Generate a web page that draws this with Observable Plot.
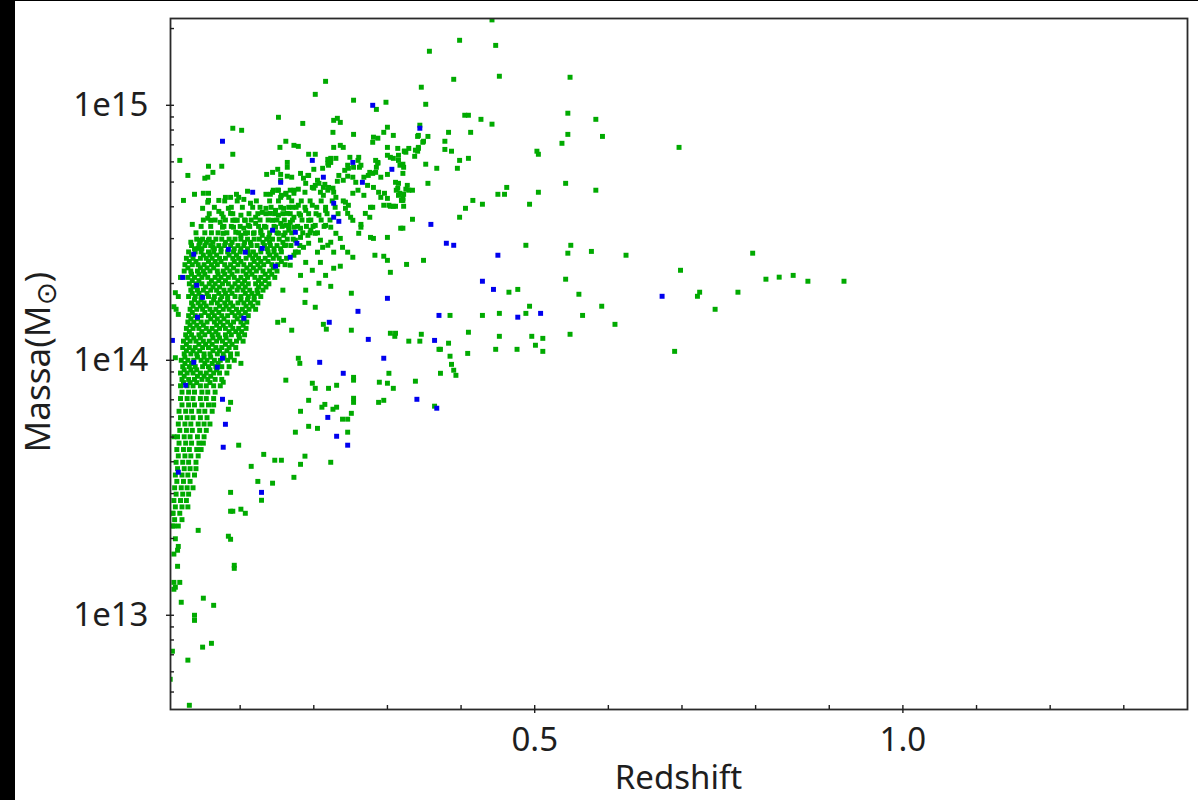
<!DOCTYPE html>
<html><head><meta charset="utf-8">
<script src="https://cdn.jsdelivr.net/npm/d3@7"></script>
<script src="https://cdn.jsdelivr.net/npm/@observablehq/plot@0.6"></script>
<style>
body{margin:0;background:#fff;}
#wrap{position:relative;width:1198px;height:800px;overflow:hidden;background:#fff;}
#blackL{position:absolute;left:0;top:0;width:15px;height:800px;background:#000;}
#blackT{position:absolute;left:0;top:0;width:1198px;height:1px;background:#000;}
</style></head><body>
<div id="wrap"><div id="blackL"></div><div id="blackT"></div></div>
<script>
// ---- DATA: redshift z and log10(mass / Msun) ----
// dense core, written as rows: [log10 M, z, z, ...]
const greenCoreRows = [
 [14.625,0.079,0.096,0.122,0.140,0.152,0.170,0.183,0.195,0.210,0.225,0.240],
 [14.60,0.065,0.088,0.103,0.127,0.142,0.155,0.166,0.176,0.188,0.204,0.216,0.229],
 [14.575,0.058,0.075,0.090,0.112,0.124,0.135,0.147,0.158,0.168,0.180,0.193,0.203,0.218,0.233],
 [14.55,0.050,0.066,0.080,0.093,0.106,0.115,0.127,0.138,0.150,0.160,0.171,0.184,0.196,0.210,0.222],
 [14.525,0.047,0.060,0.078,0.088,0.100,0.113,0.125,0.133,0.146,0.157,0.166,0.178,0.190,0.199,0.214],
 [14.50,0.040,0.052,0.061,0.070,0.082,0.098,0.110,0.119,0.128,0.140,0.150,0.161,0.170,0.185,0.195,0.205],
 [14.475,0.041,0.049,0.058,0.067,0.075,0.085,0.093,0.101,0.110,0.119,0.126,0.136,0.144,0.153,0.164,0.172],
 [14.4625,0.045,0.054,0.063,0.080,0.089,0.106,0.114,0.131,0.140,0.158],
 [14.45,0.034,0.044,0.052,0.060,0.071,0.079,0.087,0.097,0.105,0.115,0.123,0.133,0.141,0.150,0.160,0.169,0.181],
 [14.4375,0.038,0.048,0.065,0.074,0.092,0.101,0.110,0.128,0.137,0.146,0.155],
 [14.425,0.030,0.039,0.047,0.057,0.064,0.074,0.083,0.091,0.100,0.111,0.118,0.128,0.138,0.146,0.156,0.175],
 [14.4125,0.034,0.050,0.059,0.068,0.085,0.095,0.113,0.121,0.140,0.149],
 [14.40,0.027,0.036,0.046,0.054,0.062,0.072,0.080,0.090,0.098,0.108,0.117,0.125,0.134,0.145,0.153,0.163],
 [14.3875,0.031,0.040,0.057,0.066,0.074,0.092,0.101,0.119,0.128,0.138,0.156],
 [14.375,0.025,0.035,0.043,0.051,0.061,0.069,0.079,0.087,0.097,0.105,0.114,0.124,0.132,0.143,0.151,0.161],
 [14.3625,0.029,0.046,0.055,0.064,0.082,0.091,0.109,0.118,0.127,0.145],
 [14.35,0.024,0.033,0.042,0.050,0.059,0.069,0.077,0.086,0.096,0.104,0.113,0.122,0.131,0.140,0.150],
 [14.3375,0.034,0.044,0.052,0.070,0.079,0.089,0.108,0.116,0.134,0.143],
 [14.325,0.019,0.029,0.038,0.048,0.056,0.066,0.074,0.084,0.092,0.101,0.110,0.120,0.128,0.138,0.147],
 [14.3125,0.035,0.044,0.061,0.071,0.080,0.097,0.106,0.125,0.134],
 [14.30,0.031,0.040,0.048,0.058,0.066,0.076,0.084,0.093,0.103,0.111,0.121,0.129,0.139],
 [14.2875,0.036,0.053,0.063,0.072,0.089,0.098,0.107,0.125,0.135],
 [14.275,0.033,0.042,0.050,0.060,0.068,0.078,0.086,0.096,0.104,0.113,0.123,0.131,0.158],
 [14.2625,0.035,0.044,0.055,0.071,0.080,0.089,0.107,0.116,0.124],
 [14.25,0.016,0.030,0.039,0.047,0.057,0.065,0.075,0.083,0.093,0.101,0.111,0.119,0.128],
 [14.2375,0.038,0.047,0.064,0.073,0.083,0.101,0.110,0.119],
 [14.225,0.034,0.043,0.051,0.061,0.069,0.079,0.087,0.097,0.105,0.114,0.124],
 [14.2125,0.036,0.046,0.054,0.072,0.081,0.090,0.108,0.117],
 [14.20,0.013,0.032,0.041,0.049,0.059,0.067,0.077,0.085,0.095,0.103,0.112,0.121],
 [14.1875,0.035,0.052,0.062,0.071,0.089,0.098,0.107],
 [14.175,0.030,0.039,0.047,0.057,0.065,0.075,0.083,0.093,0.101,0.111],
 [14.1625,0.033,0.042,0.060,0.069,0.078,0.096,0.105],
 [14.15,0.029,0.037,0.047,0.055,0.065,0.073,0.083,0.091,0.101,0.109],
 [14.1375,0.032,0.041,0.050,0.068,0.077,0.087,0.104],
 [14.125,0.027,0.036,0.044,0.054,0.062,0.072,0.080,0.090,0.098,0.108],
 [14.1125,0.031,0.048,0.058,0.067,0.085,0.094,0.102],
 [14.10,0.026,0.034,0.044,0.052,0.062,0.070,0.080,0.088,0.098,0.106],
 [14.0875,0.028,0.037,0.046,0.063,0.072,0.081,0.099],
 [14.075,0.023,0.032,0.040,0.050,0.058,0.068,0.076,0.086,0.095,0.104],
 [14.0625,0.027,0.044,0.053,0.062,0.080,0.089],
 [14.05,0.022,0.031,0.039,0.049,0.057,0.067,0.075,0.085,0.094],
 [14.0375,0.027,0.036,0.045,0.063,0.072,0.082],
 [14.025,0.024,0.033,0.041,0.051,0.059,0.069,0.077,0.087,0.096],
 [14.0125,0.025,0.042,0.051,0.060,0.078,0.087],
 [14.00,0.020,0.029,0.037,0.047,0.055,0.065,0.073,0.083,0.092],
 [13.9875,0.025,0.034,0.052,0.062,0.070],
 [13.975,0.022,0.031,0.039,0.049,0.057,0.067,0.075,0.085],
 [13.9625,0.024,0.033,0.041,0.059,0.068],
 [13.95,0.019,0.028,0.036,0.046,0.054,0.064,0.072,0.082],
 [13.9375,0.024,0.042,0.051,0.060],
 [13.925,0.021,0.030,0.038,0.048,0.056,0.066,0.075],
 [13.9125,0.023,0.032,0.041,0.059],
 [13.90,0.019,0.028,0.036,0.046,0.054,0.064,0.073],
 [13.875,0.021,0.030,0.038,0.048,0.056,0.066],
 [13.85,0.019,0.028,0.036,0.046,0.054,0.064],
 [13.825,0.021,0.030,0.038,0.048,0.057,0.064],
 [13.80,0.017,0.026,0.034,0.044,0.052,0.062],
 [13.775,0.019,0.028,0.036,0.046,0.055],
 [13.75,0.016,0.025,0.033,0.043,0.051,0.059],
 [13.725,0.018,0.027,0.035,0.045,0.054],
 [13.70,0.015,0.024,0.032,0.042,0.051],
 [13.675,0.017,0.026,0.034,0.044,0.050],
 [13.65,0.014,0.023,0.031,0.041,0.047],
 [13.625,0.016,0.025,0.033,0.043],
 [13.60,0.013,0.022,0.030,0.040],
 [13.575,0.015,0.024,0.032,0.040],
 [13.55,0.012,0.021,0.029,0.038],
 [13.525,0.014,0.023,0.032],
 [13.50,0.011,0.020,0.028,0.036],
 [13.475,0.013,0.022,0.030],
 [13.45,0.010,0.019,0.027],
 [13.425,0.012,0.021,0.029],
 [13.40,0.009,0.018],
 [13.375,0.011,0.021],
 [13.35,0.008,0.016]
];
// [z, log10 M]
const greenUpperLeft = [[0.023,14.627],[0.038,14.651],[0.050,14.655],[0.057,14.655],[0.057,14.627],[0.056,14.620],[0.049,14.596],[0.071,14.627],[0.080,14.639],[0.087,14.639],[0.095,14.651],[0.098,14.639],[0.105,14.631],[0.110,14.663],[0.114,14.616],[0.117,14.600],[0.135,14.651],[0.144,14.659],[0.151,14.667],[0.155,14.639],[0.162,14.655],[0.168,14.667],[0.173,14.655],[0.071,14.584],[0.077,14.561],[0.073,14.541],[0.076,14.522],[0.077,14.498],[0.056,14.557],[0.060,14.549],[0.035,14.533],[0.084,14.596],[0.087,14.576],[0.090,14.549],[0.091,14.522],[0.094,14.502],[0.096,14.549],[0.101,14.569],[0.107,14.549],[0.105,14.518],[0.111,14.529],[0.107,14.498],[0.101,14.490],[0.033,14.463],[0.046,14.471],[0.057,14.471],[0.063,14.443],[0.043,14.439],[0.121,14.561],[0.130,14.580],[0.135,14.596],[0.141,14.576],[0.148,14.588],[0.152,14.569],[0.159,14.596],[0.164,14.576],[0.171,14.600],[0.173,14.561],[0.168,14.541],[0.162,14.529],[0.155,14.537],[0.148,14.522],[0.144,14.549],[0.135,14.522],[0.128,14.510],[0.121,14.537],[0.118,14.498],[0.130,14.490],[0.139,14.482],[0.152,14.498],[0.159,14.490],[0.166,14.510],[0.173,14.522],[0.179,14.608],[0.189,14.588],[0.198,14.608],[0.182,14.569],[0.193,14.549],[0.207,14.569],[0.216,14.588],[0.202,14.529],[0.216,14.529],[0.182,14.518],[0.175,14.471],[0.162,14.451],[0.182,14.482],[0.209,14.384],[0.189,14.384],[0.168,14.373],[0.198,14.353],[0.216,14.333],[0.182,14.333],[0.207,14.302],[0.189,14.275]];
const greenBand = [[0.136,14.729],[0.144,14.737],[0.155,14.729],[0.164,14.722],[0.170,14.718],[0.155,14.706],[0.182,14.733],[0.192,14.725],[0.212,14.753],[0.219,14.773],[0.223,14.792],[0.230,14.792],[0.249,14.796],[0.246,14.765],[0.242,14.745],[0.262,14.757],[0.287,14.776],[0.285,14.757],[0.276,14.737],[0.268,14.718],[0.291,14.718],[0.300,14.729],[0.315,14.784],[0.317,14.765],[0.164,14.776],[0.164,14.757],[0.151,14.749],[0.141,14.651],[0.145,14.667],[0.152,14.667],[0.156,14.647],[0.162,14.651],[0.166,14.639],[0.173,14.667],[0.179,14.671],[0.188,14.659],[0.198,14.678],[0.202,14.686],[0.205,14.706],[0.215,14.690],[0.220,14.678],[0.232,14.702],[0.240,14.706],[0.234,14.725],[0.253,14.655],[0.260,14.667],[0.273,14.686],[0.281,14.678],[0.288,14.659],[0.291,14.639],[0.296,14.655],[0.300,14.635],[0.314,14.675],[0.317,14.655],[0.319,14.627],[0.329,14.667],[0.321,14.635],[0.304,14.604],[0.311,14.604],[0.280,14.600]];
const greenUpper = [[0.216,15.094],[0.202,15.043],[0.254,15.020],[0.298,15.012],[0.285,14.984],[0.152,14.953],[0.185,14.929],[0.227,14.941],[0.232,14.949],[0.236,14.933],[0.090,14.910],[0.102,14.902],[0.226,14.894],[0.254,14.886],[0.300,14.914],[0.295,14.894],[0.308,14.882],[0.342,14.882],[0.162,14.859],[0.154,14.835],[0.173,14.843],[0.179,14.839],[0.236,14.843],[0.240,14.835],[0.227,14.835],[0.281,14.875],[0.287,14.871],[0.280,14.855],[0.300,14.835],[0.314,14.831],[0.323,14.820],[0.348,14.855],[0.342,14.831],[0.090,14.808],[0.018,14.784],[0.029,14.725],[0.057,14.761],[0.063,14.737],[0.056,14.718],[0.052,14.714],[0.075,14.761],[0.193,14.808],[0.202,14.808],[0.200,14.749],[0.219,14.788],[0.223,14.776],[0.220,14.765],[0.247,14.753],[0.254,14.757],[0.261,14.796],[0.260,14.784],[0.264,14.765],[0.274,14.725],[0.280,14.733],[0.284,14.737],[0.284,14.784],[0.287,14.773],[0.300,14.804],[0.304,14.796],[0.308,14.792],[0.315,14.804],[0.325,14.816],[0.329,14.831],[0.338,14.824],[0.322,14.757],[0.321,14.733],[0.311,14.698],[0.315,14.694],[0.312,14.667],[0.315,14.647],[0.295,14.608],[0.302,14.608],[0.308,14.604],[0.268,14.647],[0.277,14.600],[0.276,14.561],[0.264,14.522],[0.261,14.498],[0.318,14.518],[0.300,14.482],[0.277,14.482],[0.281,14.478],[0.295,14.408],[0.283,14.412],[0.300,14.392],[0.304,14.345],[0.246,14.576],[0.250,14.561],[0.253,14.549],[0.270,14.576],[0.246,14.722],[0.253,14.718],[0.257,14.698],[0.193,14.725],[0.186,14.714],[0.189,14.694],[0.200,14.675],[0.207,14.694],[0.209,14.659],[0.213,14.647],[0.227,14.659],[0.230,14.639],[0.213,14.678],[0.219,14.667],[0.226,14.675],[0.243,14.620],[0.247,14.608],[0.243,14.596],[0.223,14.522],[0.230,14.498],[0.236,14.478],[0.223,14.463],[0.239,14.443],[0.227,14.424],[0.202,14.498],[0.209,14.471],[0.212,14.443],[0.205,14.424],[0.219,14.451],[0.196,14.510],[0.192,14.490],[0.193,14.459],[0.186,14.443],[0.179,14.424],[0.173,14.412],[0.246,14.424],[0.253,14.404],[0.264,14.533],[0.251,14.263],[0.213,14.141],[0.217,14.122],[0.170,14.118],[0.151,14.149],[0.159,14.157],[0.202,14.208],[0.188,14.227],[0.223,14.290],[0.236,14.369],[0.227,14.361],[0.251,14.118],[0.304,14.106],[0.311,14.106],[0.310,14.094],[0.179,14.008],[0.181,13.988],[0.254,13.933],[0.302,13.949],[0.101,13.988]];
const greenOuter = [[0.442,15.335],[0.398,15.255],[0.357,15.212],[0.447,15.235],[0.390,15.102],[0.452,15.114],[0.548,15.110],[0.346,15.071],[0.352,15.004],[0.405,14.961],[0.410,14.961],[0.427,14.945],[0.442,14.926],[0.545,14.969],[0.583,14.945],[0.344,14.922],[0.341,14.878],[0.355,14.878],[0.383,14.894],[0.413,14.894],[0.378,14.859],[0.349,14.859],[0.545,14.886],[0.592,14.878],[0.323,14.820],[0.342,14.835],[0.341,14.820],[0.378,14.827],[0.387,14.820],[0.337,14.800],[0.398,14.784],[0.410,14.792],[0.537,14.851],[0.503,14.820],[0.505,14.808],[0.696,14.835],[0.321,14.769],[0.352,14.769],[0.367,14.753],[0.395,14.753],[0.542,14.694],[0.583,14.667],[0.355,14.694],[0.327,14.686],[0.325,14.671],[0.334,14.667],[0.322,14.651],[0.321,14.627],[0.322,14.604],[0.462,14.678],[0.450,14.651],[0.459,14.651],[0.416,14.627],[0.429,14.612],[0.406,14.596],[0.505,14.659],[0.493,14.612],[0.398,14.561],[0.334,14.553],[0.321,14.518],[0.488,14.451],[0.549,14.451],[0.545,14.420],[0.577,14.427],[0.624,14.412],[0.796,14.420],[0.326,14.376],[0.349,14.392],[0.698,14.353],[0.465,14.267],[0.477,14.278],[0.542,14.318],[0.560,14.259],[0.814,14.318],[0.832,14.326],[0.851,14.333],[0.871,14.310],[0.920,14.310],[0.724,14.267],[0.721,14.251],[0.776,14.267],[0.745,14.200],[0.493,14.212],[0.591,14.212],[0.385,14.176],[0.429,14.176],[0.452,14.184],[0.488,14.184],[0.565,14.176],[0.609,14.141],[0.346,14.102],[0.329,14.075],[0.344,14.075],[0.383,14.067],[0.370,14.043],[0.372,14.043],[0.410,14.110],[0.452,14.094],[0.496,14.094],[0.511,14.086],[0.548,14.102],[0.409,14.027],[0.447,14.043],[0.476,14.043],[0.501,14.059],[0.511,14.035],[0.690,14.035],[0.385,14.016],[0.387,13.984],[0.390,13.961],[0.393,13.941],[0.372,13.949],[0.338,13.918]];
const greenMid = [[0.077,13.914],[0.162,13.922],[0.198,13.910],[0.202,13.890],[0.220,13.890],[0.231,13.902],[0.254,13.922],[0.289,13.914],[0.300,13.910],[0.308,13.890],[0.087,13.835],[0.084,13.808],[0.098,13.667],[0.193,13.843],[0.215,13.827],[0.211,13.816],[0.226,13.808],[0.231,13.816],[0.254,13.851],[0.254,13.835],[0.182,13.800],[0.239,13.769],[0.246,13.769],[0.251,13.792],[0.288,13.835],[0.295,13.843],[0.364,13.820],[0.175,13.718],[0.193,13.741],[0.205,13.733],[0.246,13.718],[0.223,13.600],[0.132,13.631],[0.147,13.608],[0.156,13.608],[0.115,13.584],[0.188,13.624],[0.182,13.592],[0.173,13.541],[0.124,13.525],[0.144,13.518],[0.129,13.451],[0.087,13.482],[0.087,13.408],[0.090,13.408],[0.101,13.416],[0.107,13.400],[0.043,13.333],[0.084,13.310],[0.087,13.298],[0.092,13.196],[0.092,13.184]];
const greenLow = [[0.015,13.192],[0.010,13.129],[0.018,13.129],[0.012,13.110],[0.010,13.102],[0.020,13.051],[0.050,13.067],[0.064,13.039],[0.038,13.000],[0.038,12.980],[0.008,12.859],[0.049,12.875],[0.061,12.890],[0.029,12.824],[0.031,12.647],[0.005,12.749],[0.015,13.255],[0.010,13.35],[0.012,13.30],[0.016,13.27],[0.012,14.265],[0.010,14.21],[0.016,14.18],[0.012,14.01],[0.010,13.70],[0.008,13.40],[0.010,13.24]];
const bluePoints = [[0.280,15.000],[0.344,14.910],[0.076,14.859],[0.198,14.784],[0.253,14.776],[0.213,14.718],[0.155,14.698],[0.117,14.659],[0.266,14.698],[0.306,14.749],[0.227,14.616],[0.227,14.561],[0.234,14.545],[0.175,14.502],[0.144,14.510],[0.359,14.533],[0.380,14.459],[0.390,14.451],[0.450,14.412],[0.429,14.310],[0.444,14.278],[0.673,14.251],[0.300,14.243],[0.260,14.192],[0.370,14.176],[0.477,14.169],[0.508,14.184],[0.221,14.149],[0.364,14.078],[0.274,14.082],[0.295,14.008],[0.208,13.992],[0.240,13.949],[0.340,13.847],[0.076,13.847],[0.026,13.902],[0.080,13.749],[0.077,13.659],[0.219,13.776],[0.367,13.812],[0.231,13.702],[0.246,13.667],[0.129,13.482],[0.016,13.561],[0.037,14.416],[0.022,14.325],[0.041,14.294],[0.107,14.424],[0.130,14.439],[0.148,14.369],[0.168,14.404],[0.049,14.247],[0.042,14.169],[0.105,14.165],[0.008,14.078],[0.076,14.008],[0.037,13.992],[0.069,13.973],[0.084,14.435],[0.177,14.459]];
// axis ticks
const yMajorTicks = [1e13, 1e14, 1e15];
const yMinorTicks = [5e12,6e12,7e12,8e12,9e12,2e13,3e13,4e13,5e13,6e13,7e13,8e13,9e13,2e14,3e14,4e14,5e14,6e14,7e14,8e14,9e14,2e15];
const xMajorTicks = [0.5, 1.0];
const xMinorTicks = [0.1,0.2,0.3,0.4,0.6,0.7,0.8,0.9,1.1,1.2,1.3];
const xLabel = "Redshift";
const yLabelMain = "Massa(M", yLabelSub = "\u2299", yLabelEnd = ")";

// ---- build tables ----
const green = [];
for (const [m, ...zs] of greenCoreRows) for (const z of zs) green.push({z, mass: 10 ** m});
for (const arr of [greenUpperLeft, greenBand, greenUpper, greenOuter, greenMid, greenLow])
  for (const [z, m] of arr) green.push({z, mass: 10 ** m});
const blue = bluePoints.map(([z, m]) => ({z, mass: 10 ** m}));

const ink = "#1e1e1e";
const font = "'Noto Sans', 'DejaVu Sans', sans-serif";
const noText = () => "";
const plot = Plot.plot({
  width: 1198, height: 800,
  marginLeft: 170, marginRight: 11, marginTop: 18, marginBottom: 91,
  style: {fontFamily: font, fontSize: "33px", color: ink, background: "transparent", overflow: "visible"},
  x: {domain: [0.0054, 1.3865]},
  y: {type: "log", domain: [4.27e12, 2.19e15]},
  marks: [
    Plot.dot(green, {x: "z", y: "mass", symbol: "square", r: 2.8, fill: "#00aa00", stroke: null, clip: "frame"}),
    Plot.dot(blue, {x: "z", y: "mass", symbol: "square", r: 2.8, fill: "#0000ee", stroke: null, clip: "frame"}),
    Plot.frame({stroke: "#2a2a2a", strokeWidth: 1.8}),
    Plot.axisY({ticks: yMajorTicks, anchor: "left", tickSize: 8, dx: 4, tickFormat: noText, label: null, strokeWidth: 1.4}),
    Plot.axisY({ticks: yMinorTicks, anchor: "left", tickSize: 4, dx: 4, tickFormat: noText, label: null, strokeWidth: 1.4}),
    Plot.axisY({ticks: yMajorTicks, anchor: "left", tickSize: 0, tickPadding: 22, label: null,
      tickFormat: d => "1e" + Math.round(Math.log10(d))}),
    Plot.axisX({ticks: xMajorTicks, anchor: "bottom", tickSize: 8, dy: -4, tickFormat: noText, label: null, strokeWidth: 1.4}),
    Plot.axisX({ticks: xMinorTicks, anchor: "bottom", tickSize: 4, dy: -4, tickFormat: noText, label: null, strokeWidth: 1.4}),
    Plot.axisX({ticks: xMajorTicks, anchor: "bottom", tickSize: 0, tickPadding: 18, label: null,
      tickFormat: d => d.toFixed(1)})
  ]
});
plot.style.position = "absolute";
plot.style.left = "0px";
plot.style.top = "0px";
document.getElementById("wrap").prepend(plot);

const svg = d3.select(plot);
svg.append("text").attr("x", 678.5).attr("y", 789).attr("text-anchor", "middle")
  .attr("fill", ink).text(xLabel);
const yl = svg.append("text").attr("transform", "translate(50,362) rotate(-90)")
  .attr("text-anchor", "middle").attr("fill", ink).attr("font-size", "35px");
yl.append("tspan").text(yLabelMain);
yl.append("tspan").attr("font-size", "28px").attr("font-family", "'DejaVu Sans'").attr("dy", 6).text(yLabelSub);
yl.append("tspan").attr("dy", -6).text(yLabelEnd);
</script>
</body></html>
